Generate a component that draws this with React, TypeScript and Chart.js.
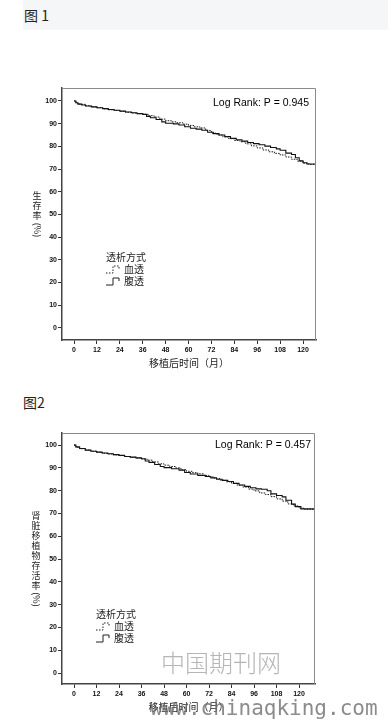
import React, { useEffect, useRef } from 'react';
import { Chart, registerables } from 'chart.js';

Chart.register(...registerables);

// ---- Data ----
const xTickMonths = [0, 12, 24, 36, 48, 60, 72, 84, 96, 108, 120];
const yTickValues = [0, 10, 20, 30, 40, 50, 60, 70, 80, 90, 100];

const legendTitle = '透析方式';
const seriesNames = ['血透', '腹透'];

// Figure 1 – 血透 (dashed)
const fig1HdMonths = [0, 1, 3, 6, 9, 12, 15, 18, 21, 24, 27, 30, 33, 36, 39, 42, 45, 48, 51, 54, 57, 60, 63, 66, 69, 72, 75, 78, 81, 84, 87, 90, 93, 96, 99, 102, 105, 108, 111, 114, 117, 120, 123, 126.8];
const fig1HdSurv = [100, 99.0, 98.5, 97.9, 97.4, 97.0, 96.5, 96.1, 95.8, 95.4, 95.0, 94.7, 94.4, 94.1, 93.5, 92.9, 92.0, 91.3, 90.8, 90.4, 89.8, 89.2, 88.6, 88.1, 87.0, 85.8, 85.0, 84.2, 83.4, 82.6, 82.0, 81.1, 80.2, 79.3, 78.4, 77.6, 76.9, 76.2, 75.3, 74.3, 73.5, 72.6, 72.0, 71.8];
// Figure 1 – 腹透 (solid)
const fig1PdMonths = [0, 1, 2, 4, 6, 9, 12, 15, 18, 21, 24, 27, 30, 33, 36, 38, 40, 43, 46, 48, 52, 55, 58, 61, 64, 67, 70, 73, 76, 79, 82, 85, 88, 91, 94, 97, 100, 103, 106, 108, 111, 114, 116, 118, 120, 122, 126.8];
const fig1PdSurv = [100, 99.2, 98.6, 98.2, 97.8, 97.4, 97.0, 96.6, 96.2, 95.9, 95.5, 95.1, 94.8, 94.4, 94.1, 93.2, 92.6, 91.8, 90.8, 90.2, 89.9, 89.4, 88.6, 88.0, 87.6, 87.1, 86.2, 85.6, 85.0, 84.3, 83.5, 82.9, 82.3, 81.7, 81.2, 80.7, 80.1, 79.5, 78.9, 78.3, 77.0, 76.4, 75.0, 73.6, 72.8, 72.2, 72.0];

// Figure 2 – 血透 (dashed)
const fig2HdMonths = [0, 1, 3, 6, 9, 12, 15, 18, 21, 24, 27, 30, 33, 36, 39, 42, 45, 48, 51, 54, 57, 60, 63, 66, 69, 72, 75, 78, 81, 84, 87, 90, 93, 96, 99, 102, 105, 108, 111, 114, 117, 120, 123, 128.5];
const fig2HdSurv = [100, 99.0, 98.4, 97.8, 97.3, 96.9, 96.4, 96.1, 95.7, 95.4, 95.0, 94.6, 94.3, 93.9, 93.4, 92.6, 91.8, 91.2, 90.6, 90.0, 89.2, 88.5, 87.9, 87.4, 86.7, 86.0, 85.3, 84.6, 83.9, 83.2, 82.4, 81.6, 80.7, 79.9, 79.0, 78.3, 77.4, 76.4, 75.4, 74.2, 73.3, 72.3, 71.8, 71.5];
// Figure 2 – 腹透 (solid)
const fig2PdMonths = [0, 1, 3, 6, 9, 12, 15, 18, 21, 24, 27, 30, 33, 36, 38, 40, 43, 46, 48, 52, 56, 59, 62, 66, 70, 73, 76, 79, 82, 85, 88, 91, 94, 97, 100, 103, 105, 108, 111, 113, 116, 118, 121, 128.5];
const fig2PdSurv = [100, 99.2, 98.5, 97.8, 97.3, 96.9, 96.5, 96.2, 95.8, 95.5, 95.0, 94.7, 94.4, 94.0, 93.0, 92.4, 91.5, 90.6, 90.1, 89.6, 89.0, 88.0, 87.3, 86.7, 86.2, 85.6, 85.0, 84.5, 84.0, 83.2, 82.5, 81.9, 81.3, 80.8, 80.6, 80.0, 78.6, 77.9, 77.3, 75.8, 74.1, 73.0, 72.0, 71.5];

const CJK = '"Noto Sans CJK SC", "Noto Sans", sans-serif';
const LATIN = '"Liberation Sans", Arial, sans-serif';

type Decor = {
  pText: string;
  pRight: number;
  pY: number;
  yTitle: string;
  yTitleX: number;
  legendX: number;
  legendY: number;
  legendGap: number;
  watermark: boolean;
};

const decorPlugin = {
  id: 'kmDecor',
  afterDraw(chart: any, _args: any, opts: Decor) {
    const ctx = chart.ctx as CanvasRenderingContext2D;
    const a = chart.chartArea;
    ctx.save();
    // frame (top & right lighter)
    ctx.strokeStyle = '#8a8a8a';
    ctx.lineWidth = 1;
    ctx.beginPath();
    ctx.moveTo(a.left, a.top + 0.5);
    ctx.lineTo(a.right - 0.5, a.top + 0.5);
    ctx.lineTo(a.right - 0.5, a.bottom);
    ctx.stroke();

    // Log rank text
    ctx.fillStyle = '#000';
    ctx.font = `10.5px ${LATIN}`;
    ctx.textAlign = 'right';
    ctx.textBaseline = 'middle';
    ctx.fillText(opts.pText, opts.pRight, opts.pY);

    // stacked y title
    const size = 9;
    const step = 10;
    ctx.font = `${size}px ${CJK}`;
    ctx.fillStyle = '#222';
    const chars = Array.from(opts.yTitle);
    const paren = '(%)';
    const pw = ctx.measureText(paren).width;
    const total = chars.length * step + pw + 2;
    let y = (a.top + a.bottom) / 2 - total / 2;
    ctx.textAlign = 'center';
    for (const ch of chars) {
      ctx.fillText(ch, opts.yTitleX, y + step / 2);
      y += step;
    }
    y += 2;
    ctx.save();
    ctx.translate(opts.yTitleX, y + pw / 2);
    ctx.rotate(Math.PI / 2);
    ctx.fillText(paren, 0, 0);
    ctx.restore();

    // legend
    const lx = opts.legendX;
    const ly = opts.legendY;
    ctx.textAlign = 'left';
    ctx.font = `10px ${CJK}`;
    ctx.fillText(legendTitle, lx, ly);
    const rows = [ly + opts.legendGap, ly + opts.legendGap * 2];
    ctx.strokeStyle = '#222';
    seriesNames.forEach((name, i) => {
      const ry = rows[i];
      ctx.lineWidth = 1;
      ctx.setLineDash(i === 0 ? [1.5, 1.5] : []);
      ctx.beginPath();
      ctx.moveTo(lx, ry + 4);
      ctx.lineTo(lx + 7, ry + 4);
      ctx.lineTo(lx + 7, ry - 3);
      ctx.lineTo(lx + 13, ry - 3);
      ctx.lineTo(lx + 13, ry);
      ctx.stroke();
      ctx.setLineDash([]);
      ctx.fillText(name, lx + 18, ry);
    });

    if (opts.watermark) {
      ctx.fillStyle = 'rgba(150,150,150,0.7)';
      ctx.font = `300 24px ${CJK}`;
      ctx.textAlign = 'center';
      ctx.fillText('中国期刊网', 221, 283);
      ctx.font = `21px "DejaVu Sans Mono", monospace`;
      ctx.textAlign = 'left';
      ctx.fillStyle = 'rgba(110,110,110,0.8)';
      ctx.fillText('www.chinaqking.com', 150, 330);
    }
    ctx.restore();
  },
};

type KMProps = {
  width: number;
  height: number;
  top: number;
  hdMonths: number[];
  hdSurv: number[];
  pdMonths: number[];
  pdSurv: number[];
  xMin: number;
  xMax: number;
  yMin: number;
  yMax: number;
  padTop: number;
  padRight: number;
  yAxisWidth: number;
  xAxisHeight: number;
  xTitlePadBottom: number;
  decor: Decor;
};

function KMChart(p: KMProps) {
  const ref = useRef<HTMLCanvasElement | null>(null);
  useEffect(() => {
    if (!ref.current) return;
    const hd = p.hdMonths.map((m, i) => ({ x: m, y: p.hdSurv[i] }));
    const pd = p.pdMonths.map((m, i) => ({ x: m, y: p.pdSurv[i] }));
    const chart = new Chart(ref.current, {
      type: 'line',
      data: {
        datasets: [
          {
            label: seriesNames[0],
            data: hd,
            stepped: true,
            borderColor: '#1a1a1a',
            borderWidth: 1,
            borderDash: [1.5, 1.2],
            pointRadius: 0,
            fill: false,
          },
          {
            label: seriesNames[1],
            data: pd,
            stepped: true,
            borderColor: '#111',
            borderWidth: 1.1,
            pointRadius: 0,
            fill: false,
          },
        ],
      },
      options: {
        responsive: false,
        animation: false,
        events: [],
        layout: { padding: { top: p.padTop, right: p.padRight, left: 0, bottom: 0 } },
        plugins: {
          legend: { display: false },
          tooltip: { enabled: false },
          title: { display: false },
          kmDecor: p.decor,
        } as any,
        scales: {
          x: {
            type: 'linear',
            min: p.xMin,
            max: p.xMax,
            afterBuildTicks: (s: any) => {
              s.ticks = xTickMonths.map((v) => ({ value: v }));
            },
            afterFit: (s: any) => {
              s.height = p.xAxisHeight;
            },
            ticks: {
              autoSkip: false,
              maxRotation: 0,
              padding: 2,
              color: '#111',
              font: { family: LATIN, size: 7, weight: 'bold' },
            },
            grid: { drawOnChartArea: false, drawTicks: true, tickLength: 4, color: '#333' },
            border: { display: true, color: '#444', width: 1.5 },
            title: {
              display: true,
              text: '移植后时间（月）',
              color: '#222',
              font: { family: CJK, size: 10 },
              padding: { top: 0, bottom: p.xTitlePadBottom },
            },
          },
          y: {
            type: 'linear',
            min: p.yMin,
            max: p.yMax,
            afterBuildTicks: (s: any) => {
              s.ticks = yTickValues.map((v) => ({ value: v }));
            },
            afterFit: (s: any) => {
              s.width = p.yAxisWidth;
            },
            ticks: {
              autoSkip: false,
              padding: 1,
              color: '#111',
              font: { family: LATIN, size: 7, weight: 'bold' },
            },
            grid: { drawOnChartArea: false, drawTicks: true, tickLength: 4, color: '#333' },
            border: { display: true, color: '#444', width: 1.5 },
            title: { display: false },
          },
        },
      },
      plugins: [decorPlugin as any],
    });
    return () => chart.destroy();
  }, []);
  return (
    <canvas
      ref={ref}
      width={p.width}
      height={p.height}
      style={{ position: 'absolute', left: 0, top: p.top, width: p.width, height: p.height }}
    />
  );
}

export default function App() {
  return (
    <div
      style={{
        position: 'absolute',
        left: 0,
        top: 0,
        width: 388,
        height: 720,
        background: '#fff',
        overflow: 'hidden',
        fontFamily: CJK,
      }}
    >
      <div
        style={{
          position: 'absolute',
          left: 23,
          top: 0,
          width: 365,
          height: 30,
          background: '#f5f6f8',
        }}
      />
      <div style={{ position: 'absolute', left: 24, top: 6, fontSize: 14, lineHeight: '18px', color: '#222' }}>
        图 1
      </div>
      <KMChart
        width={388}
        height={350}
        top={30}
        hdMonths={fig1HdMonths}
        hdSurv={fig1HdSurv}
        pdMonths={fig1PdMonths}
        pdSurv={fig1PdSurv}
        xMin={-6.3}
        xMax={126.8}
        yMin={-5.3}
        yMax={105.7}
        padTop={58}
        padRight={72}
        yAxisWidth={62}
        xAxisHeight={40}
        xTitlePadBottom={11}
        decor={{
          pText: 'Log Rank: P = 0.945',
          pRight: 309,
          pY: 73,
          yTitle: '生存率',
          yTitleX: 37,
          legendX: 106,
          legendY: 227,
          legendGap: 12,
          watermark: false,
        }}
      />
      <div style={{ position: 'absolute', left: 23, top: 393, fontSize: 14, lineHeight: '18px', color: '#222' }}>
        图2
      </div>
      <KMChart
        width={388}
        height={340}
        top={380}
        hdMonths={fig2HdMonths}
        hdSurv={fig2HdSurv}
        pdMonths={fig2PdMonths}
        pdSurv={fig2PdSurv}
        xMin={-6.4}
        xMax={128.5}
        yMin={-4.8}
        yMax={105.3}
        padTop={53}
        padRight={73}
        yAxisWidth={62}
        xAxisHeight={36}
        xTitlePadBottom={7}
        decor={{
          pText: 'Log Rank: P = 0.457',
          pRight: 311,
          pY: 65,
          yTitle: '肾脏移植物存活率',
          yTitleX: 36,
          legendX: 96,
          legendY: 234,
          legendGap: 12,
          watermark: true,
        }}
      />
    </div>
  );
}
